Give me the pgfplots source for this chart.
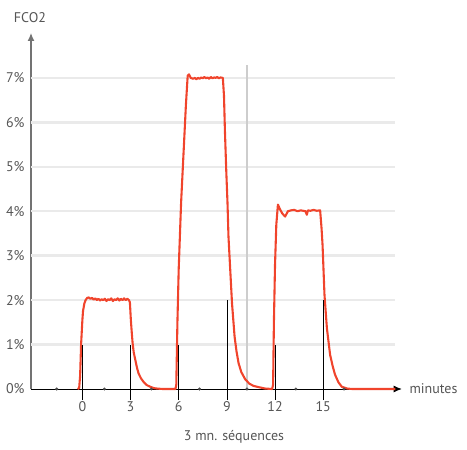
\documentclass[border=0pt]{standalone}
\usepackage{fontspec}
\setmainfont{PT Sans}
\usepackage{pgfplots}
\pgfplotsset{compat=1.18}
\usetikzlibrary{arrows.meta}

\definecolor{curvered}{RGB}{240,68,44}
\definecolor{txtgray}{RGB}{85,85,85}
\definecolor{gridgray}{RGB}{234,234,234}
\definecolor{vgray}{RGB}{205,205,205}

\begin{document}
\begin{tikzpicture}
\useasboundingbox (0,0) rectangle (467bp,450bp);
\begin{axis}[
    at={(31bp,61bp)}, anchor=south west,
    scale only axis,
    width=370.7bp, height=356bp,
    xmin=-3.2, xmax=19.89,
    ymin=0, ymax=8.01,
    axis lines=left,
    clip=false,
    x axis line style={black, line width=0.8pt, -{Latex[length=8bp,width=7bp]}},
    y axis line style={gray!90!black, line width=1.2pt, -{Latex[length=8bp,width=7bp]}},
    xtick={0,3,6,9,12,15},
    ytick={0,1,...,7},
    major tick length=0pt,
    yticklabel={\pgfmathprintnumber{\tick}\%},
    /pgf/number format/assume math mode=true,
    tick label style={font=\fontsize{14bp}{16bp}\selectfont, text=txtgray},
    xticklabel style={yshift=-9bp},
    yticklabel style={xshift=-3bp},
]
% grid lines
\foreach \k in {1,...,7} {
  \edef\tmp{\noexpand\draw[gridgray, line width=2.4pt] (axis cs:-3.2,\k) -- (axis cs:19.5,\k);}
  \tmp
}
\draw[vgray, line width=1.6pt] (axis cs:10.25,0) -- (axis cs:10.25,7.3);

% red CO2 trace
\addplot[curvered, line width=2.1pt, line join=round] coordinates {
(-0.3,0) (-0.2,0.02) (-0.14,0.3) (-0.08,1.0) (0.0,1.55) (0.04,1.75) (0.12,1.92)
(0.2,2.0) (0.3,2.05) (0.4,2.06) (0.5,2.03) (0.6,2.05) (0.7,2.01) (0.8,2.04)
(0.9,2.0) (1.0,2.03) (1.1,1.99) (1.2,2.02) (1.3,2.0) (1.4,2.03) (1.5,1.98)
(1.6,2.02) (1.7,2.0) (1.8,2.04) (1.9,1.98) (2.0,2.02) (2.1,2.0) (2.2,2.04)
(2.3,1.99) (2.4,2.03) (2.5,2.0) (2.6,2.04) (2.7,2.0) (2.8,2.03) (2.9,2.0)
(2.96,1.95) (3.02,1.55) (3.08,1.25) (3.13,1.03) (3.2,0.82) (3.3,0.65)
(3.4,0.48) (3.5,0.35) (3.65,0.24) (3.81,0.16) (4.0,0.09) (4.23,0.05)
(4.45,0.02) (4.65,0.01) (5.0,0) (5.8,0)
(5.85,0.1) (5.92,1.5) (6.0,2.7) (6.15,4.2) (6.3,5.3) (6.45,6.4) (6.56,7.05)
(6.64,7.08) (6.75,7.0) (6.9,6.98) (7.0,7.0) (7.1,6.97) (7.2,7.0) (7.3,6.98)
(7.4,7.01) (7.5,6.99) (7.6,7.02) (7.7,6.99) (7.8,7.01) (7.9,6.98) (8.0,7.02)
(8.1,6.99) (8.2,7.01) (8.3,7.0) (8.4,7.02) (8.5,6.99) (8.6,7.01) (8.75,7.0)
(8.82,6.6) (8.88,5.8) (8.96,4.93) (9.04,4.18) (9.10,3.43) (9.21,2.68)
(9.32,1.93) (9.48,1.18) (9.6,0.85) (9.73,0.58) (9.9,0.38) (10.14,0.22)
(10.4,0.12) (10.66,0.07) (11.0,0.04) (11.39,0.01) (11.82,0)
(11.88,0.1) (11.93,1.5) (12.0,2.8) (12.08,3.7) (12.18,4.15) (12.3,4.05)
(12.45,3.95) (12.63,3.88) (12.8,4.0) (13.0,4.02) (13.2,4.03) (13.4,4.0)
(13.6,4.02) (13.9,4.0) (13.98,3.92) (14.05,4.02) (14.2,4.01) (14.4,4.03)
(14.6,4.01) (14.81,4.02) (14.9,3.6) (14.96,3.24) (15.08,2.12) (15.23,1.37)
(15.43,0.77) (15.6,0.5) (15.74,0.32) (15.95,0.15) (16.16,0.05) (16.5,0.01)
(16.8,0) (19.5,0)
};

% black sequence markers
\addplot[black, line width=0.6pt] coordinates {(0,-0.25) (0,1)};
\addplot[black, line width=0.6pt] coordinates {(3,-0.25) (3,1)};
\addplot[black, line width=0.6pt] coordinates {(6,-0.25) (6,1)};
\addplot[black, line width=0.6pt] coordinates {(9,-0.25) (9,2)};
\addplot[black, line width=0.6pt] coordinates {(12,-0.25) (12,1)};
\addplot[black, line width=0.6pt] coordinates {(15,-0.25) (15,2)};

% small dots on the time axis
\addplot[only marks, mark=*, mark size=1.3pt, color=gray!60!black] coordinates {
(-1.6,0) (1.37,0) (4.3,0) (7.3,0) (10.25,0) (13.3,0) (16.3,0)
};
\end{axis}
\node[text=txtgray, font=\fontsize{14bp}{16bp}\selectfont] at (30bp,432bp) {FCO2};
\node[text=txtgray, font=\fontsize{14bp}{16bp}\selectfont, anchor=west] at (406bp,61bp) {minutes};
\node[text=txtgray, font=\fontsize{14bp}{16bp}\selectfont] at (234bp,13bp) {3 mn. séquences};
\end{tikzpicture}
\end{document}
